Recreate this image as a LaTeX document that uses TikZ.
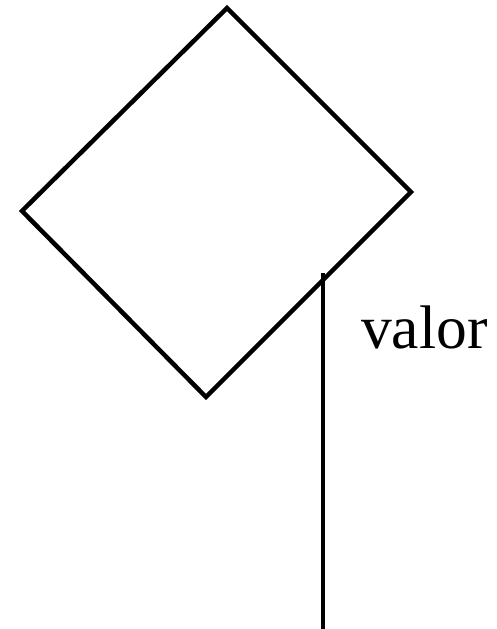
\documentclass[tikz,border=0pt]{standalone}
\usepackage{fontspec}
\setmainfont{Liberation Serif}
\usetikzlibrary{positioning}

\begin{document}
\begin{tikzpicture}[x=0.02cm,y=-0.02cm,line width=0.09cm]
  \useasboundingbox (0,0) rectangle (497,629);
  % the tilted square
  \coordinate (top) at (227,8);
  \coordinate (right) at (411,192);
  \coordinate (bottom) at (206,397);
  \coordinate (left) at (22,211);
  \draw[line join=miter] (top) -- (right) -- (bottom) -- (left) -- cycle;
  % the stem below it
  \coordinate (stemtop) at (323,273);
  \coordinate (stemend) at (323,629);
  \draw (stemtop) -- (stemend);
  \node[anchor=base west,inner sep=0pt,font=\fontsize{35}{40}\selectfont] (valor) at (359,348) {valor};
\end{tikzpicture}
\end{document}
